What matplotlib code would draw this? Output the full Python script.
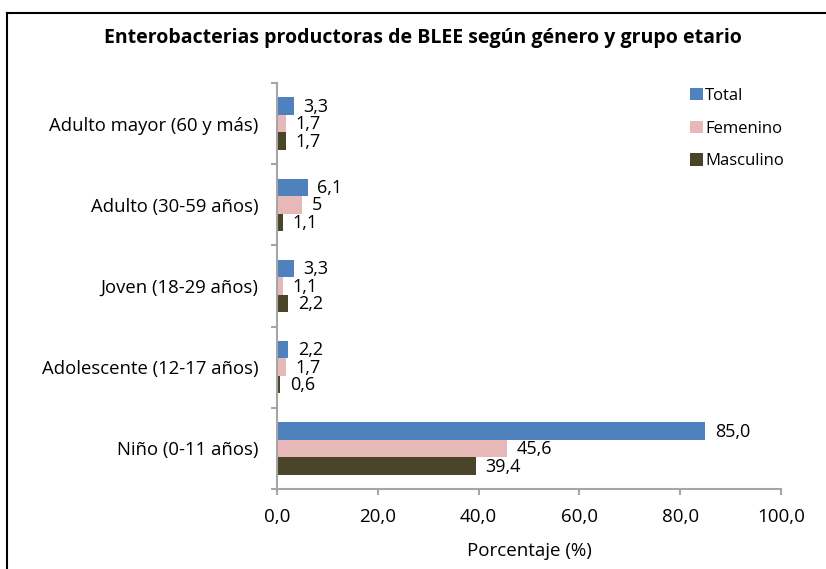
import numpy as np
import matplotlib.pyplot as plt
from matplotlib.lines import Line2D
from matplotlib.ticker import FixedLocator

# -------------------------------------------
# Data
# -------------------------------------------
grupos = ['Niño (0-11 años)', 'Adolescente (12-17 años)', 'Joven (18-29 años)',
          'Adulto (30-59 años)', 'Adulto mayor (60 y más)']
total = [85.0, 2.2, 3.3, 6.1, 3.3]
femenino = [45.6, 1.7, 1.1, 5.0, 1.7]
masculino = [39.4, 0.6, 2.2, 1.1, 1.7]

etiq_total = ['85,0', '2,2', '3,3', '6,1', '3,3']
etiq_fem = ['45,6', '1,7', '1,1', '5', '1,7']
etiq_masc = ['39,4', '0,6', '2,2', '1,1', '1,7']

series = ['Total', 'Femenino', 'Masculino']
colores = ['#4F81BD', '#E6B9B8', '#4A452A']

plt.rcParams['font.family'] = ['Open Sans', 'DejaVu Sans']

W, H = 826, 569
fig = plt.figure(figsize=(W / 100, H / 100), dpi=100)
ax = fig.add_axes([277 / W, 1 - 489 / H, (781 - 277) / W, (489 - 83) / H])

y = np.arange(len(grupos))
h = 0.215
datos = [(total, etiq_total), (femenino, etiq_fem), (masculino, etiq_masc)]
for i, (vals, etiqs) in enumerate(datos):
    pos = y + h * (1 - i)
    ax.barh(pos, vals, height=h, color=colores[i], label=series[i])
    for p, v, t in zip(pos, vals, etiqs):
        ax.annotate(t, (v, p), xytext=(7, -0.5), textcoords='offset points',
                    ha='left', va='center', fontsize=13)

ax.set_xlim(0, 100)
ax.set_ylim(-0.5, len(grupos) - 0.5)
ax.set_xticks(np.arange(0, 101, 20))
ax.set_xticklabels(['0,0', '20,0', '40,0', '60,0', '80,0', '100,0'], fontsize=13.5)
ax.set_yticks(y)
ax.set_yticklabels(grupos, fontsize=13.3)
ax.yaxis.set_minor_locator(FixedLocator(np.arange(-0.5, len(grupos), 1)))
ax.tick_params(axis='y', which='major', length=0, pad=13.5)
ax.tick_params(axis='y', which='minor', length=4, color='#A6A6A6', width=1.5)
ax.tick_params(axis='x', length=4, color='#A6A6A6', width=1.5, pad=9.5)

for s in ['top', 'right']:
    ax.spines[s].set_visible(False)
for s in ['left', 'bottom']:
    ax.spines[s].set_color('#A6A6A6')
    ax.spines[s].set_linewidth(1.5)

ax.set_xlabel('Porcentaje (%)', fontsize=13.5, labelpad=12)

fig.text(423 / W, 1 - 38 / H, 'Enterobacterias productoras de BLEE según género y grupo etario',
         ha='center', va='center', fontsize=14, fontweight='bold')

ax.legend(loc='upper left', bbox_to_anchor=(675 / W, 1 - 73 / H),
          bbox_transform=fig.transFigure, frameon=False, fontsize=12,
          handlelength=0.75, handleheight=0.75, handletextpad=0.15, labelspacing=1.0)

# outer frame: left and top edges only
fig.add_artist(Line2D([7 / W, 7 / W], [0, 1 - 13 / H], color='black', lw=1.5,
                      transform=fig.transFigure))
fig.add_artist(Line2D([7 / W, 1], [1 - 13 / H, 1 - 13 / H], color='black', lw=1.5,
                      transform=fig.transFigure))

plt.savefig('out.png', dpi=100)
